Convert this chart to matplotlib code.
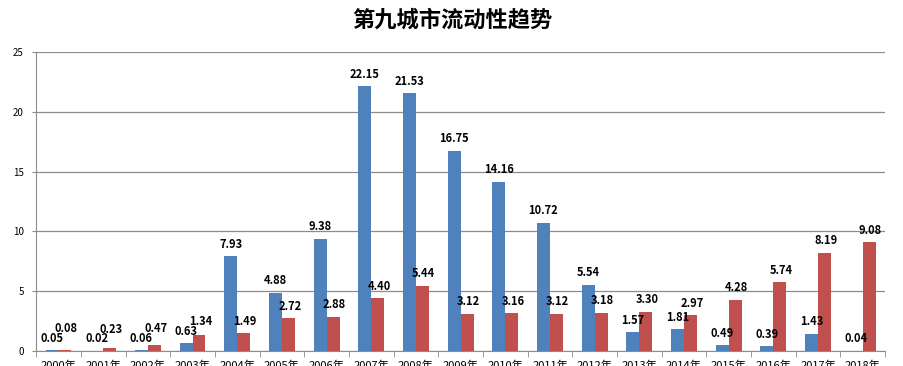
import matplotlib.pyplot as plt
import numpy as np

plt.rcParams['font.family'] = ['Noto Sans CJK SC', 'DejaVu Sans']

years = ['%d年' % y for y in range(2000, 2019)]
blue_vals = [0.05, 0.02, 0.06, 0.63, 7.93, 4.88, 9.38, 22.15, 21.53, 16.75,
             14.16, 10.72, 5.54, 1.57, 1.81, 0.49, 0.39, 1.43, 0.04]
red_vals = [0.08, 0.23, 0.47, 1.34, 1.49, 2.72, 2.88, 4.40, 5.44, 3.12,
            3.16, 3.12, 3.18, 3.30, 2.97, 4.28, 5.74, 8.19, 9.08]

blue = '#4F81BD'
red = '#C0504D'

fig = plt.figure(figsize=(9.04, 3.66), dpi=100)
ax = fig.add_axes([0.040, 0.041, 0.939, 0.817])

x = np.arange(len(years))
w = 0.29
ax.bar(x - w / 2, blue_vals, w, color=blue, zorder=3)
ax.bar(x + w / 2, red_vals, w, color=red, zorder=3)

# data labels above each bar; red label lifted when it would sit on the blue one
for xi, b, r in zip(x, blue_vals, red_vals):
    ax.annotate('%.2f' % b, (xi - w / 2, b), xytext=(0, 4), textcoords='offset points',
                ha='center', va='bottom', fontsize=8, fontweight='bold', zorder=4)
    ry = max(r, b + 0.8) if b < 1 else r
    ax.annotate('%.2f' % r, (xi + w / 2, ry), xytext=(1, 4), textcoords='offset points',
                ha='center', va='bottom', fontsize=8, fontweight='bold', zorder=4)

ax.set_xlim(-0.5, len(years) - 0.5)
ax.set_ylim(0, 25)
ax.set_yticks(range(0, 26, 5))
ax.yaxis.grid(True, color='#8c8c8c', linewidth=0.9, zorder=0)
ax.set_axisbelow(True)

ax.set_xticks(x)
ax.set_xticklabels(years, fontsize=8)
ax.set_xticks(np.arange(-0.5, len(years), 1), minor=True)
ax.tick_params(axis='x', which='major', length=0, pad=7)
ax.tick_params(axis='x', which='minor', length=4, color='#8c8c8c')
ax.tick_params(axis='y', labelsize=7, length=3, color='#8c8c8c', pad=6)

for s in ['top', 'right']:
    ax.spines[s].set_visible(False)
ax.spines['left'].set_color('#8c8c8c')
ax.spines['bottom'].set_color('#8c8c8c')

fig.suptitle('第九城市流动性趋势', y=0.975, fontsize=16, fontweight='black')

fig.savefig('out.png', dpi=100)
